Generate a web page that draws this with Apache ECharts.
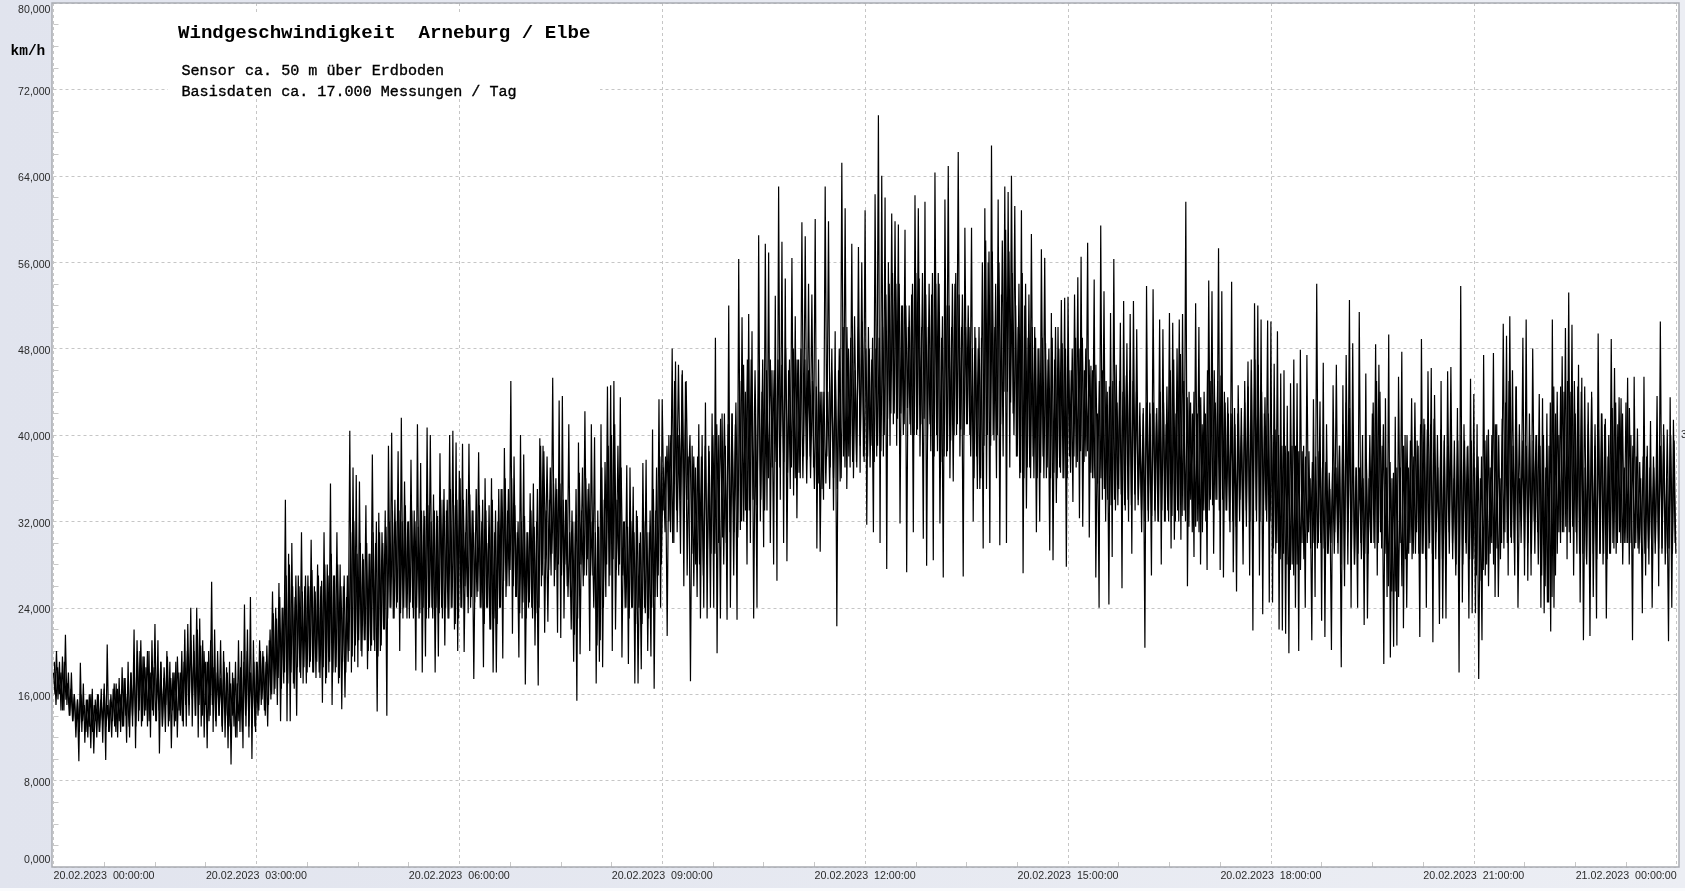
<!DOCTYPE html>
<html><head><meta charset="utf-8">
<style>html,body{margin:0;padding:0;width:1685px;height:891px;overflow:hidden;background:linear-gradient(90deg,#e1e4ee,#eceef4)}#c{width:1685px;height:891px}</style>
<script src="https://cdn.jsdelivr.net/npm/echarts@6/dist/echarts.min.js"></script>
</head><body><div id="c"></div><script>
const titleText='Windgeschwindigkeit  Arneburg / Elbe';
const sensorText='Sensor ca. 50 m über Erdboden';
const baseText='Basisdaten ca. 17.000 Messungen / Tag';
const unitText='km/h';
const xTickLabels=['20.02.2023  00:00:00','20.02.2023  03:00:00','20.02.2023  06:00:00','20.02.2023  09:00:00','20.02.2023  12:00:00','20.02.2023  15:00:00','20.02.2023  18:00:00','20.02.2023  21:00:00','21.02.2023  00:00:00'];
// extreme high / low readings in km/h, one list per three hours
const h00=[18,16,20,15.5,19,14.5,19.5,14.5,21.5,15,18,14,18,13.5,16,12,15.5,9.8,
18.9,12.5,17,11.5,15.5,12,16,11,16.5,10.5,15.5,12,16,12.5,16.5,11.5,17,9.9,20.6,12.5,15.5,12,
16.5,13,17,12,17.5,12.5,18.5,13,17.5,11.5,19,12,18,13,22,11,21,13.5,20,13,
19.5,14,18.5,13,20,12,21,14,22.5,13.5,21,10.5,19,13,17.5,12.5,20,13,19,11,
18,13,19,12,18,14,20,13,22,13,22.5,15,24,13,21.5,14,24,12,23,13,
21,12,19,11,20,14,26.4,12.5,22,13,20,14,21,13,20,12,18.5,11,19,9.5,
18,13,19,12,21,12.5,20,11,24.3,13,22,12,25,10,21,13];
const h03=[19,14,21,15,20,14.5,19,13,21,15.5,25.5,16,24,15,26.3,13.5,24,17,34,13.5,
29,13.5,30,17,25,14,27,18,31,17,26,17,27,18.5,30.3,18,26,17.5,28,18,
26,15.2,31,17,28,18,35.5,15,27,18,31,17,28,14.6,26,15.7,25,19,40.4,18,
37,19,36.3,18.5,35.7,20,29,21,33.5,18.3,29,20,38.2,21,30,14.4,32.8,20,31,22,
33,14,39,24,40.2,23,34,24,38.5,20,41.6,23,35.7,24,32,23,37.7,24,33,18.2,
41,23,37.4,18,33,19.5,40.7,23,40,24,34.5,18,33,19.5,38.3,24,34,20.5,33,23,
40,24,40.4,22,39.3,20];
const h06=[36.7,24,39.2,19.9,31,25,39.2,24,33,17.4,31,25,38.4,24,32,18.5,36,24,30,22,
36,18,31,18,32,24,35,19.3,38.8,25,33,26,45,21.6,38,25,31,19.4,40,23,
38.2,16.9,31,24,34.6,24,35.5,20.5,32,16.8,39.7,26,39,21.7,33,22.7,34,27,45.3,26,
36,21.7,43.2,21.2,43.6,23,34,26,41,25,33,19,32,15.4,39.3,19.7,33,26,42.2,27,
35,20,41,27,39.8,17,33,19,41,18.5,34,25,44.5,26,44.6,20,45,22,34,27,
43.5,19.4,32,24,37.2,18.8,37,24,35.2,17,33,17,30,18.3,37.4,24,37.7,20,31,19.5,
40.5,16.5,33,25,43.3,24];
const h09=[43.3,33,38,21.4,40,31,48,30,46.8,31,40,29,45.6,26,44.9,27,38,17.2,39,26,
37,25,41,23,40,24,43,23,39,24,42,24,49,19.8,40,23,42,28,39,22.9,
52,24,42,27,41,22.9,56.3,31.2,50.9,32,44,28,51.2,30,49.6,23,42,24,58.5,32,
44,29.6,57.7,33,56.9,30,46,28,52.9,26.5,63,34,57.9,30,54.5,28.3,46,35,56.4,34.4,
51,32.3,47,36,59.7,38,58.4,37.7,54,38,53,37,60,29.5,47,29.2,44,34,63,38,
59.8,37,48,33,49.6,22.3,46,35.7,65.2,38,61,35,48,37,57.7,36,46,37,57.4,36.5,56,38];
const h12=[60.8,31.7,50,37,47,31,62.3,38,69.6,30,64,38,62,27.6,56,39,60.5,41,59.8,39,
59.5,31.8,52,40,59,27.3,50,41,53,31,62.2,40,61,38,50,30.4,61.6,27.9,50,41,
53,28.4,64.3,40,55,31.8,49,26.8,61.8,38,64.9,36,50,35.7,54,40,66.2,38,50,26.9,
59.2,41,52,40,59.2,32,50,38,48,35,49,29.5,61,35,56,30,66.8,40,50,36,
61.8,29.8,53,38,63,30,62.5,37,64,42,61.2,38,50,36,60.8,27.2,52,33.2,49,37,
58.6,38,50,31,48,32,57.2,38,56.4,36,47,29.3,51.3,28.4,47,33.7,50,37,52.5,36,52.7,27.8];
const h15=[52.8,38,46,33.8,53,37,54.6,32.3,56.5,31.5,46,38,57.8,30.5,46.4,36,54.4,26.8,42,24,
59.4,34,53.3,32,44,24.3,51.3,28.7,56.3,33,43,35,50.4,25.8,52.4,33,48.5,32,51.2,29,
52.4,33,49.8,34,40,31,42,20.3,53.8,33,43,27,53.5,33,42,32,50.7,28,49.8,32,
41,33,51.3,29.5,50.4,30.3,42,33,50.7,30.3,51.2,33,61.6,26,44,34,42,28.7,52.2,32,
50,28,41,33,42,27.5,54.3,34,53.3,29,43,34,57.3,27.5,53.3,26.8,43,33,42,31,
54.2,27.3,41,25.5,44.6,34,40,28,45,33,46.8,27,47,21.9,52.2,33,52,27,50.7,23.4,42,33,50.6,24.5];
const h18=[50.5,24.5,46.6,29,49.6,22,45.7,21.9,46,21.6,42.7,19.8,44.8,28,47,24,44.8,20,47.9,30,
39,24,47.4,31,36,21,43.3,25,54,30,43.1,22.8,46.7,21.3,41,29,35,20.1,44.6,31,
46.5,29,39,18.5,44.6,26,47.4,31,52.5,24,48.5,28,37,24,51.4,30,40,22.4,45.7,23,
36,30,42,30,48.4,27,46.5,31,39,18.8,43.4,25,49.3,19.4,36,20.4,41.7,20.5,45.4,30,
47.7,22.1,40,24,37,30,43.4,29,43,31,39,21.3,48.9,29,41,24,45.9,30,46.2,20.8,
43.7,31,37,22.5,45,23,40,23,45.9,31,46.3,30,36,27,42.5,18,53.8,24.5,41,30,38.9,23,45.2,23.5];
const h21=[43.8,23.5,41,17.4,36,21,47.4,27,40,26,37,30,47.6,25,41,25,36,30,50.3,31,
49.2,27,51,30,39,27,44.5,24,36,32,49,27,50.7,26.5,42,27,48,32,40,31,
43.8,24,43.4,23.5,37,24.5,39,21.8,50.7,24,42,29,40,30,47.3,31,49.9,28.5,53.2,30,
50.2,27,42,29,46.5,24.5,45.3,21,37,28,41,21.4,44,25,39,23,49.4,29,42,28,
41,23,38,29,48.9,30,46.2,29,41,31,43.4,28,37,30,45.3,28,40,21,45.4,30,
40.6,29,36,23.5,45.4,27,39,28,41.3,24,37,30,43.6,26,50.5,29,41,28,36,20.9,43.5,24,41.4,30];
// readings of the dense band that lies between those extremes
const c00=[19,15,18.5,16,18,14.5,19,15.5,17,14,16.5,13.5,16,13,15.5,12.5,16,13.5,15,12.5,
15.5,13,16,12.5,15,13.5,16,12.5,15.5,13.5,16.5,13,15,12.5,16,13.5,17,12.5,16.5,13.5,
16,13,17.5,14,16,13,18,14,18.5,13,20,14.5,21,13.5,19.5,14.5,20,13.5,18,14.5,
18.5,13.5,17.5,14.5,19,13,18.5,15,19.5,13.5,17.5,14.5,18,13.5,19.5,14.5,18,13.5,
19,15,20,14,21,15.5,20,14,22,15,20.5,14,20,15,19,13.5,21,15,18.5,13.5,
18,14,17.5,12.5,19,14,18,13,17,14,17.5,12,17,13.5,18.5,12.5,19,14,20,13,
18,14,19,12.5];
const c03=[19,14.5,20,15.5,19.5,14,20.5,15,22,16,23.5,16.5,23,17.5,25,16.5,24,18,27,17,
28,18,26,16.5,27,18.5,26,17.5,25.5,18.5,27,18,26,19,27.5,18,25.5,19,27,17.5,
26.5,18.5,28,17.5,27,19,29,18,27,18.5,28,17.5,26,19,27,18,27,20,31,19.5,
32,20.5,29,21,30,19.5,28.5,21,30,20,29,20.5,31,20,32,19.5,31,20.5,30,22,
31.5,23,32,24,33,23,32,24.5,33,23.5,32,24,33.5,23,32,24.5,33,23,32,24,
31.5,23.5,33,24,32.5,23,33.5,24,32,23,33,24,32.5,23.5,34,23,35,24,34,23,
35,24,33.5,22.5,34,23];
const c06=[36,24,34,26,35,23.5,34.5,25,33,24.5,35,25.5,33.5,24,34,22.5,33,24,33.5,22,
34,23,33,22.5,35,24,35,26.5,36,26,35,27.5,36,26,33.5,25,32,23.5,32,24.5,
32.5,23,31,24.5,33,23,31.5,23.5,35,24,39,27,38.5,28.5,38,27.5,37,29,35.5,27.5,
35,28,35.5,27,34,28,34,25,31,22,32,21.5,35,23,36.5,28,37,27,36,28.5,
35.5,27,32,24,31,20.5,31.5,21,37,24,37.5,28,39,27,40,28.5,41,27.5,39,28,
37,27,32,24,31.5,23,32,24,31,22.5,32.5,24,31,22.5,32,23.5,31,23,33,24,
35,25,37,27,38,28];
const c09=[37,31,39,32,40,30,45,33,46.5,34,46,33,45,34,40,29,38,28,38,28,
38,27,39,28,38.5,29,40,29,41,30,41.5,30.5,42,30,41,31,42,31,43,30.5,
45,32,46.5,33,47,33,47,34,46,33.5,46,34,47,33,46,36,47,37,46,37.5,
47,37,46.5,37.5,48,36.5,47,37,48,36,47,36.5,48,36,47,35.5,46,36,45,35,
44.5,35.5,44,35,44,35.5,44,35,46,36,46,35,48,36,50,37,50,38,49,37.5,
51,37.5,50,39,50.5,37.5];
const c12=[48,38,48,39,49,37.5,48,39,49,38.5,50,40,53,41.5,54,42,55,42,54,41.5,
54,42,52,41,52,42.5,52,40,54,40,55,40.5,54.5,41,55,41.5,53,39.5,54,38.5,
55,38,54,38.5,54,37.5,51,38,52,38.5,52,39.5,54,40,55,41,53,40.5,53,40,
50,41,50,38,48,36,49,35,50,36,56,39,58,40,57,39,57,39.5,54,40,
56,41,58,44,59,44,57,43,55,40,52,38,54,36.5,55,36,54,37,53,36,
50,36,49,36,48,36.5,49,36,48.5,37,48,36,49,36.5,50,36,48,36.5,48.5,36,48,36];
const c15=[46,36.5,48,38,49,37.5,48,38.5,49,37.5,48,38.5,47,36.5,46,36,46.5,35.5,45,36,
46,35,45,34,44.5,33.5,45,34,46.5,33.5,45,34.5,44,33.5,45.5,34,46,33.5,45,34.5,
44,33.5,43,33,42.5,32,43,32,42,32.5,43,32,42.5,32,44,33,43,32,44.5,32,
46,32.5,47,32,48,32,47.5,32.5,45,32,43.5,31.5,43,31,44,31.5,42,31,43.5,31,
44,32,46,33,45,33.5,46,34,45,33,45.5,34,44,33,43.5,32,42,32,42.5,31.5,
42,32,42.5,32,43,31.5,44.5,32,46,32.5,47,32,46.5,32,44,32.5,43.5,32,42,32];
const c18=[40,29.5,40.5,30,40,28.5,39,29,39,28,38.5,27.5,39,27,39,28,38.5,27.5,38.5,28.5,
38,30,38.5,29.5,37.5,30,38,29.5,38.5,30,37,29.5,37.5,29,36.5,30,37,29,37,30,
39,28,41,27.5,43,28,42.5,27.5,40,28,37,29,37,28.5,36,29,37.5,29,40,30,
43,29.5,45,30,44,29.5,41,29,37,26,37.5,25.5,36.5,25.5,37,25,37,26,39,28.5,
40,29,39.5,28.5,38,29,39.5,29,41,29,41.5,28.5,40.5,29.5,41,29,41.5,28.5,40,28.5,
40.5,28.5,39.5,28,39,29,40.5,28.5,39.5,28,39.5,28.5,40,28,39.5,29,39,28.5,39.5,28.5];
const c21=[37,27,38,26.5,38,27.5,39.5,28,40.5,29,40,28,41,29.5,40,28.5,41.5,29.5,43,30,
45,30.5,46,30,44.5,30.5,41,30,39.5,29.5,39,30,40,29,39.5,29,40,28,39,27,
40,26,42,24.5,43,25,44.5,27,44,31,44.5,31,44,31.5,45,31,44,31.5,45,31,
44.5,29,44,29,44.5,28.5,43,29,43.5,29,41,28.5,40.5,29,42,29,41.5,28.5,40,29,
42.5,29.5,43,30,43.5,30,42,30,43,30,42.5,30,39,29.5,38,29.5,37.5,30,38,29,
38,29.5,37,29.5,38,29,38,29.5,39,29.5,40,29,40.5,29.5,40,29,39.5,29];

const extremes=[h00,h03,h06,h09,h12,h15,h18,h21];
const bands=[c00,c03,c06,c09,c12,c15,c18,c21];
const extremeData=[],bandData=[];
extremes.forEach((b,i)=>b.forEach((v,j)=>extremeData.push([i*3+j/b.length*3,v])));
bands.forEach((b,i)=>b.forEach((v,j)=>bandData.push([i*3+(j+0.5)/b.length*3,v])));

const chart=echarts.init(document.getElementById('c'),null,{renderer:'canvas'});
const labelFont='"Liberation Sans",Arial,sans-serif';
const monoFont='"Liberation Mono","Courier New",monospace';
const frame='#a9acb3';
const gridColor='#c6c6c6';
const tickColor='#c8c8c8';
const yRich={fontFamily:labelFont,fontSize:10.6,color:'#2b2b2b'};
const lineSeries=d=>({type:'line',data:d,showSymbol:false,symbol:'none',sampling:false,
  lineStyle:{color:'#000',width:1.2},emphasis:{disabled:true},silent:true});
chart.setOption({
 animation:false,
 grid:{left:53.5,top:3,width:1623.2,height:864,containLabel:false},
 xAxis:{type:'value',min:0,max:24,interval:3,
  axisLine:{show:false},
  axisTick:{show:false,inside:true},
  minorTick:{show:true,splitNumber:4,length:5,lineStyle:{color:tickColor,width:1}},
  splitLine:{show:true,lineStyle:{color:gridColor,type:[3,3],width:1}},
  axisLabel:{margin:4,color:'#2b2b2b',fontFamily:labelFont,fontSize:10.7,alignMinLabel:'left',alignMaxLabel:'right',
   formatter:v=>xTickLabels[Math.round(v/3)]}},
 yAxis:{type:'value',min:0,max:80,interval:8,
  axisLine:{show:false},
  axisTick:{show:false,inside:true},
  minorTick:{show:true,splitNumber:4,length:5,lineStyle:{color:tickColor,width:1}},
  splitLine:{show:true,lineStyle:{color:gridColor,type:[3,3],width:1}},
  axisLabel:{margin:3,
   formatter:v=>(v===80?'{t|':v===0?'{b|':'{m|')+v+',000}',
   rich:{m:{...yRich,padding:[5,0,0,0]},t:{...yRich,padding:[14,0,0,0]},b:{...yRich,padding:[0,0,13,0]}}}},
 series:[lineSeries(extremeData),lineSeries(bandData)],
 graphic:[
  {type:'rect',z:-1,silent:true,shape:{x:52,y:3,width:1627,height:864},style:{fill:'#fff'}},
  {type:'rect',z:8,silent:true,shape:{x:52,y:3,width:1627,height:864},style:{fill:'none',stroke:frame,lineWidth:1.5}},
  {type:'rect',z:8,silent:true,shape:{x:0,y:888,width:1685,height:3},style:{fill:'#fafbfd'}},
  {type:'rect',z:8,silent:true,shape:{x:168,y:12,width:432,height:86},style:{fill:'#fff'}},
  {type:'text',z:9,silent:true,style:{x:178,y:33.5,text:titleText,font:'bold 19.1px '+monoFont,fill:'#000',verticalAlign:'middle'}},
  {type:'text',z:9,silent:true,style:{x:181.5,y:71,text:sensorText,font:'15.1px '+monoFont,fill:'#000',stroke:'#000',lineWidth:0.35,verticalAlign:'middle'}},
  {type:'text',z:9,silent:true,style:{x:181.5,y:92,text:baseText,font:'15.1px '+monoFont,fill:'#000',stroke:'#000',lineWidth:0.35,verticalAlign:'middle'}},
  {type:'text',z:9,silent:true,style:{x:10.5,y:51.5,text:unitText,font:'bold 14.5px '+monoFont,fill:'#000',verticalAlign:'middle'}},
  {type:'text',z:9,silent:true,style:{x:1681,y:435,text:'3',font:'10.6px '+labelFont,fill:'#2b2b2b',verticalAlign:'middle'}}
 ]
});
</script></body></html>
